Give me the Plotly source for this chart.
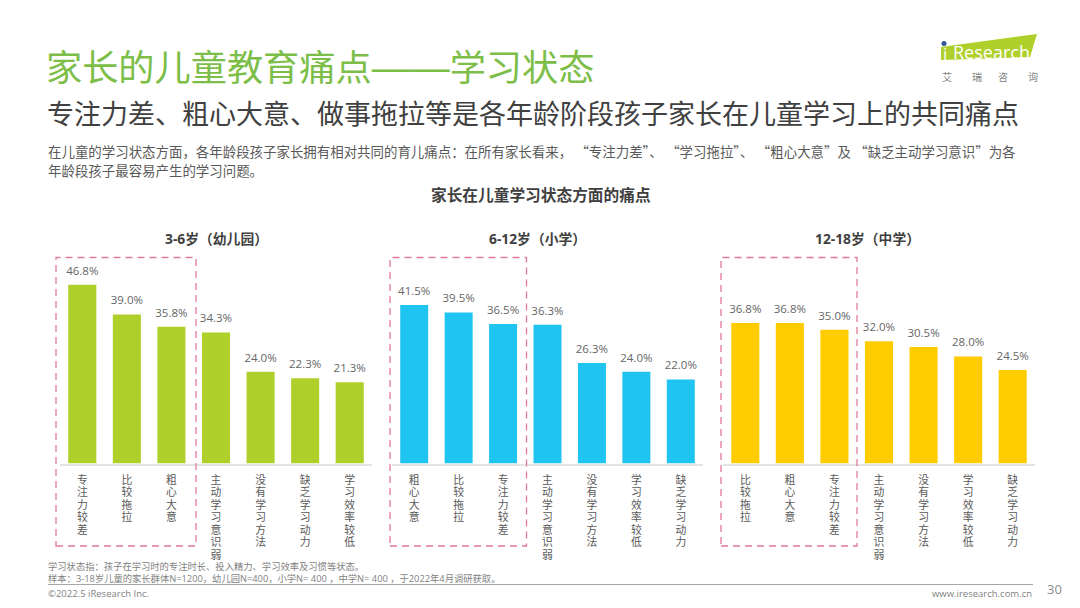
import plotly.graph_objects as go

W, H = 1080, 608
CJK = "Noto Sans CJK SC"
LATIN = "Open Sans, Noto Sans CJK SC"
STACK = "Liberation Sans, Noto Sans CJK SC"

panel_titles = ["3-6岁（幼儿园）", "6-12岁（小学）", "12-18岁（中学）"]
cats_a = ["专注力较差", "比较拖拉", "粗心大意", "主动学习意识弱", "没有学习方法", "缺乏学习动力", "学习效率较低"]
vals_a = [46.8, 39.0, 35.8, 34.3, 24.0, 22.3, 21.3]
cats_b = ["粗心大意", "比较拖拉", "专注力较差", "主动学习意识弱", "没有学习方法", "学习效率较低", "缺乏学习动力"]
vals_b = [41.5, 39.5, 36.5, 36.3, 26.3, 24.0, 22.0]
cats_c = ["比较拖拉", "粗心大意", "专注力较差", "主动学习意识弱", "没有学习方法", "学习效率较低", "缺乏学习动力"]
vals_c = [36.8, 36.8, 35.0, 32.0, 30.5, 28.0, 24.5]
colors = ["#AFD02B", "#1FC4F0", "#FFCC00"]

panels_px = [(60, 372), (392, 703), (723, 1035)]
title_cx = [216, 537.5, 867]
box_px = [(56, 196), (390, 526.5), (721, 857)]
base_y, top_y = 463.5, 263.0
y_max = (base_y - top_y) / 3.82


def px(x):
    return x / W


def py(y):
    return 1 - y / H


fig = go.Figure()
annotations = []
shapes = []


def text(x, y, s, size, color, anchor="left", family=CJK, bold=False):
    annotations.append(dict(
        x=px(x), y=py(y), xref="paper", yref="paper", text=f"<b>{s}</b>" if bold else s,
        showarrow=False, xanchor=anchor, yanchor="middle", align=anchor,
        font=dict(size=size, color=color, family=family),
        borderpad=0, borderwidth=0,
    ))


def vertical(label):
    # stacked characters; tick font sets the line pitch, the span the glyph size
    return "<br>".join(f'<span style="font-size:10.8px">{ch}</span>' for ch in label)


data = [(cats_a, vals_a), (cats_b, vals_b), (cats_c, vals_c)]
layout_axes = {}
for i, ((cats, vals), color, (x0, x1)) in enumerate(zip(data, colors, panels_px)):
    n = "" if i == 0 else str(i + 1)
    idx = list(range(len(cats)))
    fig.add_trace(go.Bar(
        x=idx, y=vals, xaxis=f"x{n}", yaxis=f"y{n}",
        marker=dict(color=color, line=dict(width=0)), width=0.63,
        showlegend=False, hovertext=cats,
    ))
    # value labels: invisible markers hold the text a little above each bar
    fig.add_trace(go.Scatter(
        x=idx, y=vals, xaxis=f"x{n}", yaxis=f"y{n}", mode="markers+text",
        marker=dict(size=10, opacity=0), cliponaxis=False, hoverinfo="skip",
        text=[f"{v:.1f}%" for v in vals], textposition="top center",
        textfont=dict(size=11.5, color="#666666", family=LATIN), showlegend=False,
    ))
    layout_axes[f"xaxis{n}"] = dict(
        domain=[px(x0), px(x1)], range=[-0.5, 6.5], anchor=f"y{n}", showgrid=False,
        tickmode="array", tickvals=idx, ticktext=[vertical(c) for c in cats], tickangle=0,
        tickfont=dict(size=9.6, color="#595959", family=STACK),
        ticks="outside", ticklen=7, tickcolor="rgba(0,0,0,0)", zeroline=False, showline=True,
        linecolor="#E4E4E4", linewidth=1.5,
    )
    layout_axes[f"yaxis{n}"] = dict(
        domain=[py(base_y), py(top_y)], range=[0, y_max], anchor=f"x{n}", visible=False,
    )
    text(title_cx[i], 238, panel_titles[i], 13.8, "#404040", "center", LATIN, True)

for x0, x1 in box_px:
    shapes.append(dict(type="rect", xref="paper", yref="paper", x0=px(x0), x1=px(x1),
                       y0=py(546), y1=py(257.5),
                       line=dict(color="#E07B95", width=1.3, dash="7px,5px")))

text(45.5, 64.5,
     '家长的儿童教育痛点<span style="font-family:Liberation Sans;font-size:39px">——</span>学习状态',
     36.2, "#7DBE48")
text(47, 113, "专注力差、粗心大意、做事拖拉等是各年龄阶段孩子家长在儿童学习上的共同痛点", 27, "#404040")
text(47.5, 151,
     "在儿童的学习状态方面，各年龄段孩子家长拥有相对共同的育儿痛点：在所有家长看来，\u2005“专注力差”、\u2005“学习拖拉”、\u2005“粗心大意”及\u2005“缺乏主动学习意识”为各",
     13.45, "#595959")
text(47.5, 170, "年龄段孩子最容易产生的学习问题。", 13.45, "#595959")
text(540.5, 194.5, "家长在儿童学习状态方面的痛点", 15.7, "#3F3F3F", "center", CJK, True)
text(47.5, 566, "学习状态指：孩子在学习时的专注时长、投入精力、学习效率及习惯等状态。", 9.3, "#7F7F7F", "left", STACK)
text(47.5, 578, "样本：3-18岁儿童的家长群体N=1200，幼儿园N=400，小学N= 400 ，中学N= 400 ，于2022年4月调研获取。", 9.3, "#7F7F7F", "left", LATIN)
text(47.5, 593, "©2022.5 iResearch Inc.", 9.5, "#7F7F7F", "left", LATIN)
text(1032, 593, "www.iresearch.com.cn", 9.5, "#7F7F7F", "right", LATIN)
text(1054, 589, "30", 13, "#8C8C8C", "center", LATIN)

shapes.append(dict(type="line", xref="paper", yref="paper", x0=px(48), x1=px(1033), y0=py(584.5), y1=py(584.5),
                   line=dict(color="#A6A6A6", width=1)))
# logo
logo_path = "M %f %f L %f %f L %f %f L %f %f Z" % (px(941), py(47), px(1037), py(34), px(1030), py(57), px(941), py(60))
shapes.append(dict(type="path", xref="paper", yref="paper", path=logo_path, fillcolor="#AFD02B", line=dict(width=0)))
shapes.append(dict(type="circle", xref="paper", yref="paper", x0=px(941.5), x1=px(946.5), y0=py(46), y1=py(41),
                   fillcolor="#2F5597", line=dict(width=0)))
text(953, 52, "Research", 18, "#FFFFFF", "left", LATIN)
text(943, 53, "i", 17, "#FFFFFF", "left", LATIN)
for xc, ch in zip([947, 977, 1003, 1033], "艾瑞咨询"):
    text(xc, 76, ch, 10, "#7F7F7F", "center")

fig.update_layout(
    width=W, height=H, margin=dict(l=0, r=0, t=0, b=0, pad=0), autosize=False,
    paper_bgcolor="white", plot_bgcolor="white", showlegend=False,
    annotations=annotations, shapes=shapes, **layout_axes,
)
fig.write_html("out.html", config={"displayModeBar": False},
               post_script="document.body.style.margin='0';document.body.style.overflow='hidden';")
